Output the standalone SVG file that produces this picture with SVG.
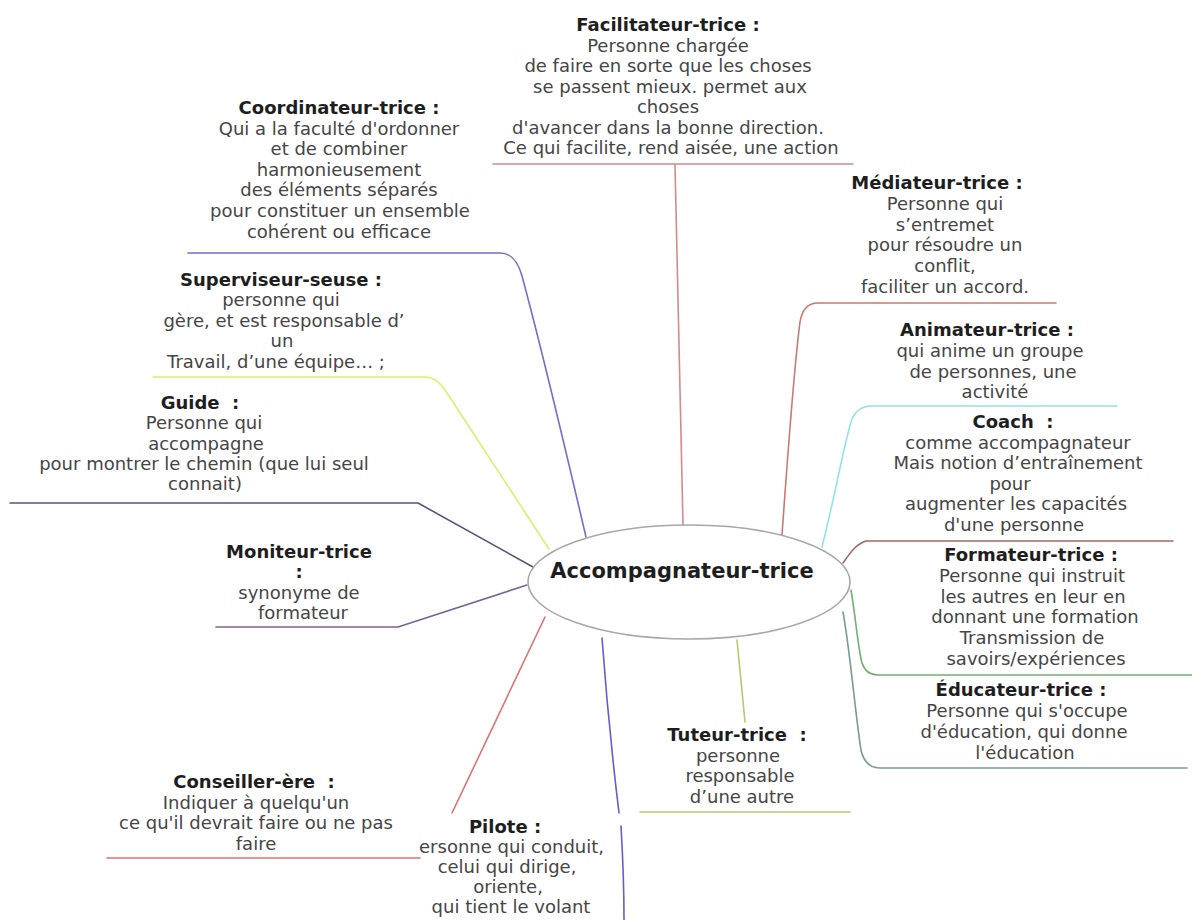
<svg xmlns="http://www.w3.org/2000/svg" width="1192" height="920" viewBox="0 0 1192 920">
<style>
text{font-family:"DejaVu Sans","Verdana",sans-serif;font-size:18px;text-anchor:middle;white-space:pre;fill:#454545}
.t{font-weight:bold;fill:#1e1e1e}
.c{fill:none;stroke-width:1.6;stroke-linecap:round;stroke-linejoin:round}
</style>
<rect width="1192" height="920" fill="#ffffff"/>
<g id="connectors">
<path class="c" stroke="#d48a8a" d="M493,164 H853 M675,164 C677,300 681,420 683,525"/>
<path class="c" stroke="#7a6ad0" d="M188,253 H500 C512,253 518,262 522,276 C542,350 568,460 586,537"/>
<path class="c" stroke="#dcee70" d="M153,377 H424 C434,377 440,382 447,393 L549,549"/>
<path class="c" stroke="#5c5278" d="M10,503 H418 L533,567"/>
<path class="c" stroke="#7a6298" d="M216,627 H398 L527,585"/>
<path class="c" stroke="#e07272" d="M545,617 L452,813 M107,858 H420"/>
<path class="c" stroke="#6a5ad0" d="M602,638 C608,720 615,780 619,813 M621,826 C623,860 624,890 624,920"/>
<path class="c" stroke="#b8c870" d="M737,640 C740,670 743,700 745,722 M640,812 H850"/>
<path class="c" stroke="#789a98" d="M843,612 C850,650 856,720 861,750 Q865,768 880,768 H1187"/>
<path class="c" stroke="#72b072" d="M851,590 C856,620 858,648 862,663 Q866,675 878,675 H1192"/>
<path class="c" stroke="#a06868" d="M843,563 C850,553 856,544 866,541 H1173"/>
<path class="c" stroke="#92e4e4" d="M822,547 C834,500 844,445 851,422 Q856,406 872,406 H1117"/>
<path class="c" stroke="#c87a70" d="M782,535 C788,450 795,360 800,322 Q803,303 818,303 H1056"/>
</g>
<g id="center">
<ellipse cx="689" cy="582" rx="161" ry="57" fill="#ffffff" stroke="#a8a8a8" stroke-width="1.6"/>
<text class="t" x="682" y="578" style="font-size:21px">Accompagnateur-trice</text>
</g>
<g id="facilitateur">
<text x="668" y="31"><tspan class="t" x="668">Facilitateur-trice :</tspan><tspan x="668" dy="20.5">Personne chargée</tspan><tspan x="668" dy="20.5">de faire en sorte que les choses</tspan><tspan x="670" dy="20.5">se passent mieux. permet aux</tspan><tspan x="668" dy="20.5">choses</tspan><tspan x="668" dy="20.5">d'avancer dans la bonne direction.</tspan><tspan x="671" dy="20.5">Ce qui facilite, rend aisée, une action</tspan></text>
</g>
<g id="coordinateur">
<text x="339" y="114"><tspan class="t" x="339">Coordinateur-trice :</tspan><tspan x="339" dy="20.6">Qui a la faculté d'ordonner</tspan><tspan x="339" dy="20.6">et de combiner</tspan><tspan x="339" dy="20.6">harmonieusement</tspan><tspan x="339" dy="20.6">des éléments séparés</tspan><tspan x="340" dy="20.6">pour constituer un ensemble</tspan><tspan x="339" dy="20.6">cohérent ou efficace</tspan></text>
</g>
<g id="mediateur">
<text x="940" y="189"><tspan class="t" x="937">Médiateur-trice :</tspan><tspan x="945" dy="20.8">Personne qui</tspan><tspan x="945" dy="20.8">s’entremet</tspan><tspan x="945" dy="20.8">pour résoudre un</tspan><tspan x="945" dy="20.8">conflit,</tspan><tspan x="945" dy="20.8">faciliter un accord.</tspan></text>
</g>
<g id="superviseur">
<text x="281" y="286"><tspan class="t" x="281">Superviseur-seuse :</tspan><tspan x="281" dy="20.4">personne qui</tspan><tspan x="284" dy="20.4">gère, et est responsable d’</tspan><tspan x="282" dy="20.4">un</tspan><tspan x="276" dy="20.4">Travail, d’une équipe… ;</tspan></text>
</g>
<g id="animateur">
<text x="990" y="336"><tspan class="t" x="987">Animateur-trice :</tspan><tspan x="990" dy="20.8">qui anime un groupe</tspan><tspan x="993" dy="20.8">de personnes, une</tspan><tspan x="995" dy="20.8">activité</tspan></text>
</g>
<g id="guide">
<text x="203" y="409"><tspan class="t" x="200">Guide  :</tspan><tspan x="204" dy="20.3">Personne qui</tspan><tspan x="206" dy="20.3">accompagne</tspan><tspan x="204" dy="20.3">pour montrer le chemin (que lui seul</tspan><tspan x="205" dy="20.3">connait)</tspan></text>
</g>
<g id="coach">
<text x="1015" y="428"><tspan class="t" x="1013">Coach  :</tspan><tspan x="1018" dy="20.6">comme accompagnateur</tspan><tspan x="1018" dy="20.6">Mais notion d’entraînement</tspan><tspan x="1010" dy="20.6">pour</tspan><tspan x="1016" dy="20.6">augmenter les capacités</tspan><tspan x="1014" dy="20.6">d'une personne</tspan></text>
</g>
<g id="moniteur">
<text x="299" y="558"><tspan class="t" x="299">Moniteur-trice</tspan><tspan class="t" x="299" dy="20.4">:</tspan><tspan x="299" dy="20.4">synonyme de</tspan><tspan x="303" dy="20.4">formateur</tspan></text>
</g>
<g id="formateur">
<text x="1032" y="561"><tspan class="t" x="1031">Formateur-trice :</tspan><tspan x="1032" dy="20.8">Personne qui instruit</tspan><tspan x="1033" dy="20.8">les autres en leur en</tspan><tspan x="1035" dy="20.8">donnant une formation</tspan><tspan x="1032" dy="20.8">Transmission de</tspan><tspan x="1036" dy="20.8">savoirs/expériences</tspan></text>
</g>
<g id="educateur">
<text x="1024" y="696"><tspan class="t" x="1021">Éducateur-trice :</tspan><tspan x="1027" dy="21">Personne qui s'occupe</tspan><tspan x="1024" dy="21">d'éducation, qui donne</tspan><tspan x="1025" dy="21">l'éducation</tspan></text>
</g>
<g id="tuteur">
<text x="740" y="741"><tspan class="t" x="737">Tuteur-trice  :</tspan><tspan x="738" dy="20.7">personne</tspan><tspan x="740" dy="20.7">responsable</tspan><tspan x="742" dy="20.7">d’une autre</tspan></text>
</g>
<g id="conseiller">
<text x="256" y="788"><tspan class="t" x="254">Conseiller-ère  :</tspan><tspan x="256" dy="20.5">Indiquer à quelqu'un</tspan><tspan x="256" dy="20.5">ce qu'il devrait faire ou ne pas</tspan><tspan x="256" dy="20.5">faire</tspan></text>
</g>
<g id="pilote">
<text x="508" y="833"><tspan class="t" x="505">Pilote :</tspan><tspan x="604" dy="20" style="text-anchor:end">ersonne qui conduit,</tspan><tspan x="507" dy="20">celui qui dirige,</tspan><tspan x="508" dy="20">oriente,</tspan><tspan x="511" dy="20">qui tient le volant</tspan></text>
</g>
</svg>
